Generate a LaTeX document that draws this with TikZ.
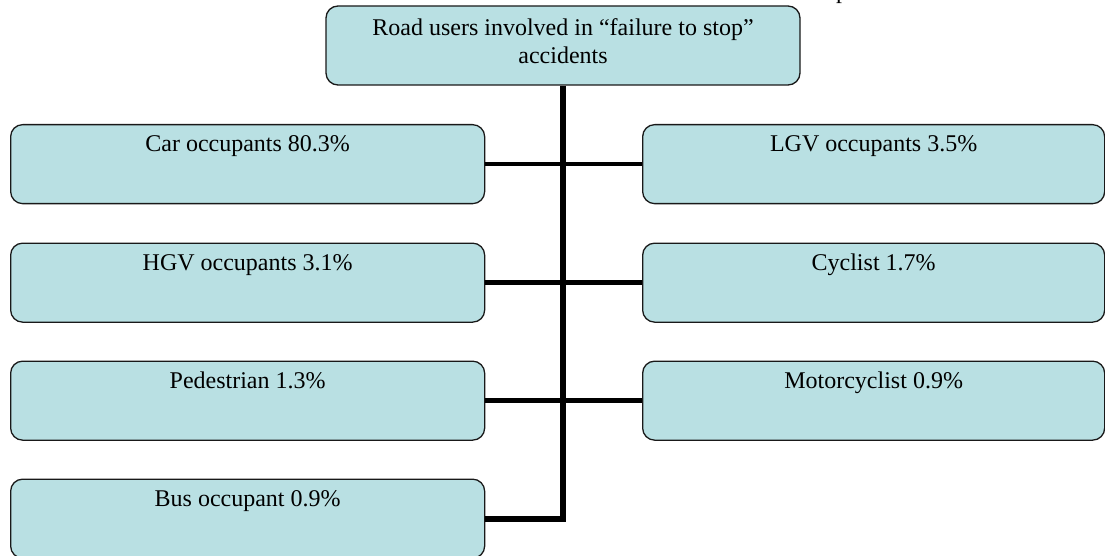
\documentclass[tikz,border=0pt]{standalone}
\usepackage{fontspec}
\setmainfont{Liberation Serif}
\definecolor{boxfill}{RGB}{185,224,227}
\definecolor{boxline}{RGB}{25,25,25}
\begin{document}
\begin{tikzpicture}[x=1pt,y=-1pt,
  box/.style={draw=boxline, line width=1.3pt, fill=boxfill, rounded corners=12pt,
    inner xsep=0pt, inner ysep=0pt, text height=27pt, text depth=52pt,
    font=\fontsize{24}{28}\selectfont, anchor=north west},
  leftbox/.style={box, minimum width=474pt},
  rightbox/.style={box, minimum width=462pt},
  topbox/.style={draw=boxline, line width=1.3pt, fill=boxfill, rounded corners=12pt,
    minimum width=474pt, minimum height=79pt, align=center, inner sep=0pt,
    font=\fontsize{24}{28}\selectfont},
  trunk/.style={line width=6pt, line join=miter},
  branch/.style={line width=4.5pt}]
\useasboundingbox (0,0) rectangle (1105,556);
% text fragment at top edge
\node[font=\fontsize{24}{28}\selectfont, anchor=base west, inner sep=0pt] (frag) at (836,-1) {p};
% top box
\node[topbox] (top) at (563,45.5) {Road users involved in “failure to stop”\\accidents\rule[-9pt]{0pt}{9pt}};
% left column
\node[leftbox] (car) at (10,124) {Car occupants 80.3\%};
\node[leftbox] (hgv) at (10,242.5) {HGV occupants 3.1\%};
\node[leftbox] (ped) at (10,360.5) {Pedestrian 1.3\%};
\node[leftbox] (bus) at (10,478.5) {Bus occupant 0.9\%};
% right column
\node[rightbox] (lgv) at (642,124) {LGV occupants 3.5\%};
\node[rightbox] (cyc) at (642,242.5) {Cyclist 1.7\%};
\node[rightbox] (moto) at (642,360.5) {Motorcyclist 0.9\%};
% connectors
\coordinate (elbow) at (top.south |- bus.east);
\draw[branch] (car.east) -- (lgv.west);
\draw[branch] (hgv.east) -- (cyc.west);
\draw[branch] (ped.east) -- (moto.west);
\draw[trunk] (top.south) -- (elbow) -- (bus.east);
\end{tikzpicture}
\end{document}
